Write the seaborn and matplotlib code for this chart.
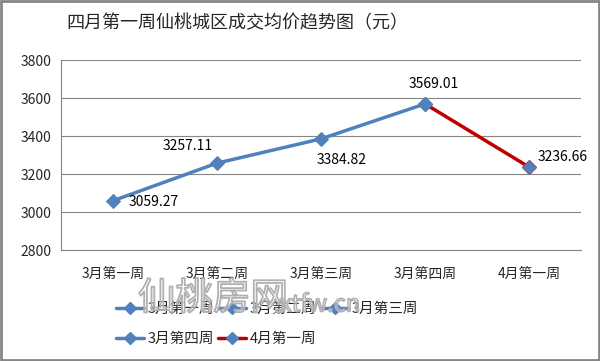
import numpy as np
import pandas as pd
import matplotlib
matplotlib.use("Agg")
import matplotlib.pyplot as plt
import seaborn as sns
from matplotlib.lines import Line2D
from matplotlib.patches import Rectangle
import matplotlib.patheffects as pe

weeks = ["3月第一周", "3月第二周", "3月第三周", "3月第四周", "4月第一周"]
prices = [3059.27, 3257.11, 3384.82, 3569.01, 3236.66]
label_offsets = [(11, -1), (-21, 12), (15, -15), (6, 14), (6, 7)]
label_align = ["left", "center", "center", "center", "left"]

BLUE = "#4F81BD"
RED = "#C00000"

sns.set_style("white")
plt.rcParams["font.family"] = ["Noto Sans CJK SC", "DejaVu Sans"]

df = pd.DataFrame({"week": weeks, "price": prices, "x": range(len(weeks))})

fig = plt.figure(figsize=(6.0, 3.61), dpi=100)
ax = fig.add_axes([61 / 600, 1 - 250 / 361, 520 / 600, 190 / 361])

# blue part: March weeks, red part: last drop into April
sns.lineplot(data=df.iloc[:4], x="x", y="price", ax=ax, color=BLUE, lw=2.5,
             marker="D", markersize=7, markeredgecolor=BLUE)
sns.lineplot(data=df.iloc[3:], x="x", y="price", ax=ax, color=RED, lw=2.5)
ax.plot(df["x"].iloc[3:4], df["price"].iloc[3:4], ls="none", marker="D",
        markersize=7, color=BLUE, markeredgecolor=BLUE, zorder=4)
ax.plot(df["x"].iloc[4:], df["price"].iloc[4:], ls="none", marker="D",
        markersize=7, color=BLUE, markeredgecolor="#7F6084", zorder=5)

for i, p in enumerate(prices):
    ax.annotate(f"{p:.2f}", (i, p), xytext=label_offsets[i], textcoords="offset points",
                ha=label_align[i], va="center", fontsize=10, color="#000000")

ax.set_xlim(-0.5, 4.5)
ax.set_ylim(2800, 3800)
ax.set_yticks(np.arange(2800, 3801, 200))
ax.set_xticks(range(len(weeks)))
ax.set_xticklabels(weeks)
ax.set_xticks(np.arange(-0.5, 4.6, 1), minor=True)
ax.tick_params(axis="x", which="major", length=0, pad=12, labelsize=10)
ax.tick_params(axis="x", which="minor", length=5, color="#868686", direction="out")
ax.tick_params(axis="y", length=4, color="#868686", labelsize=10, pad=3)
ax.set_xlabel("")
ax.set_ylabel("")
ax.yaxis.grid(True, color="#868686", lw=0.8)
ax.set_axisbelow(True)
for s in ["top", "right"]:
    ax.spines[s].set_visible(False)
for s in ["left", "bottom"]:
    ax.spines[s].set_color("#868686")
    ax.spines[s].set_linewidth(0.8)

fig.text(237 / 600, 1 - 23 / 361, "四月第一周仙桃城区成交均价趋势图（元）", ha="center",
         va="center", fontsize=13)

handles = []
for i in range(4):
    handles.append(Line2D([], [], color=BLUE, lw=2.5, marker="D", markersize=6))
handles.append(Line2D([], [], color=RED, lw=2.5, marker="D", markersize=6,
                      markerfacecolor=BLUE, markeredgecolor=BLUE))
# legend fills column-wise, reorder so it reads row by row
order = [0, 3, 1, 4, 2]
fig.legend([handles[i] for i in order], [weeks[i] for i in order], ncol=3,
           loc="upper left", bbox_to_anchor=(103 / 600, 1 - 289 / 361),
           frameon=False, fontsize=10.5, handlelength=1.9, handletextpad=0.25,
           columnspacing=0.3, labelspacing=1.1)

# outlined watermark, mostly see-through
wm_fill = (1, 1, 1, 0.35)
fig.text(213 / 600, 1 - 299 / 361, "仙桃房网", fontsize=27, color=wm_fill,
         ha="center", va="center",
         path_effects=[pe.Stroke(linewidth=1.3, foreground="#B0B0B0")], zorder=10)
fig.text(320 / 600, 1 - 305 / 361, "xtfw.cn", fontsize=17, color=wm_fill,
         ha="center", va="center",
         path_effects=[pe.Stroke(linewidth=1.1, foreground="#B0B0B0")], zorder=10)

fig.patches.append(Rectangle((0.002, 0.003), 0.996, 0.994, transform=fig.transFigure,
                             fill=False, edgecolor="#868686", lw=2))

fig.savefig("out.png", dpi=100)
